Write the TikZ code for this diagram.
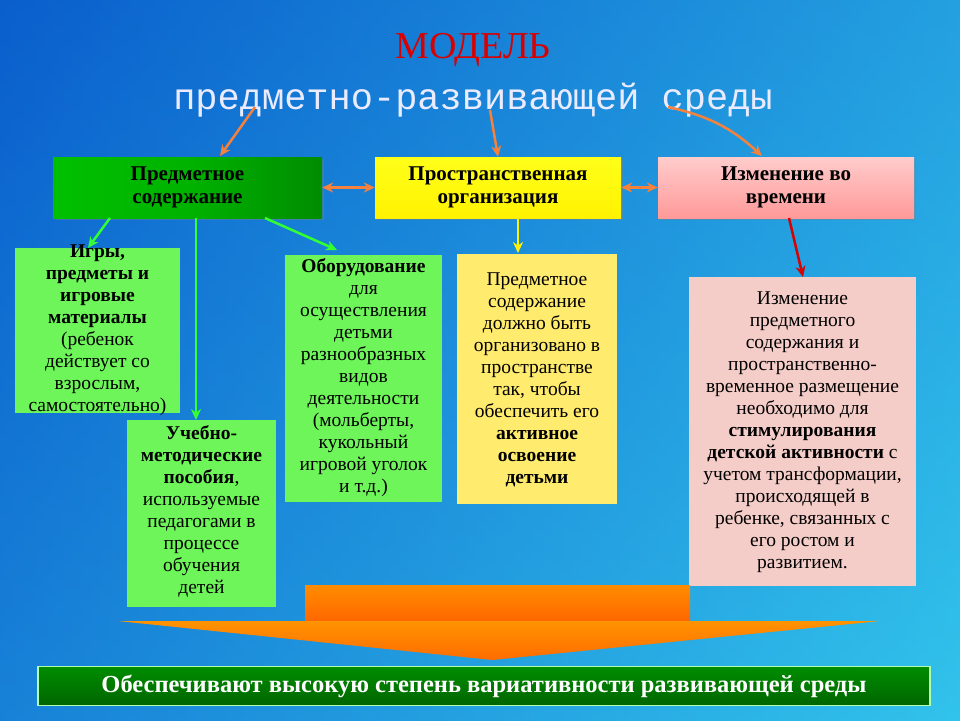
\documentclass[tikz,border=0pt]{standalone}
\usepackage{fontspec}
\setmainfont{Liberation Serif}
\newfontfamily\monof{Liberation Mono}
\usetikzlibrary{arrows.meta,shadows}
\definecolor{bgL}{RGB}{10,95,205}
\definecolor{bgR}{RGB}{50,195,235}
\definecolor{gbox}{RGB}{110,245,90}
\definecolor{ybox}{RGB}{255,235,110}
\definecolor{pbox}{RGB}{245,205,200}
\definecolor{arr}{RGB}{245,130,60}
\tikzset{
 head/.style={draw=none,minimum height=61pt,font=\bfseries\fontsize{21}{23}\selectfont,align=center,drop shadow={shadow xshift=2pt,shadow yshift=-2pt,opacity=.4}},
 body/.style={draw=none,inner sep=0pt,font=\fontsize{19.5}{22}\selectfont,align=center},
 oa/.style={arr,line width=2.5pt,-{Stealth[length=11pt,width=10pt]}},
 ob/.style={arr,line width=2.5pt,{Stealth[length=11pt,width=10pt]}-{Stealth[length=11pt,width=10pt]}},
 ga/.style={line width=2.5pt,-{Stealth[length=11pt,width=10pt]}},
}
\begin{document}
\begin{tikzpicture}[x=1pt,y=-1pt]
\shade[left color=bgL,right color=bgR] (0,0) rectangle (960,720);
\shade[top color=bgL,bottom color=bgR,opacity=.35] (0,0) rectangle (960,720);
\node (t1) at (473,50) {\color{red!85!black}\fontsize{38}{40}\selectfont МОДЕЛЬ};
\node (t2) at (473,100) {\color{white!92!blue}\monof\fontsize{37}{39}\selectfont предметно-развивающей среды};
\node[head,left color=green!75!black,right color=green!55!black,middle color=green!70!black,minimum width=269pt] (h1) at (187.5,187.5) {Предметное\\содержание};
\node[head,top color=yellow!90!white,bottom color=yellow!90!orange,minimum width=246pt] (h2) at (498,187.5) {Пространственная\\организация};
\node[head,top color=red!20!white,bottom color=red!40!white,minimum width=256pt] (h3) at (786,187.5) {Изменение во\\времени};
\path[fill=gbox] (15,248) rectangle (180,413);
\node[body] (g1) at (97.5,330) {\textbf{Игры,}\\\textbf{предметы и}\\\textbf{игровые}\\\textbf{материалы}\\(ребенок\\действует со\\взрослым,\\самостоятельно)};
\path[fill=gbox] (127,420) rectangle (276,607);
\node[body] (g2) at (201.5,511) {\textbf{Учебно-}\\\textbf{методические}\\\textbf{пособия},\\используемые\\педагогами в\\процессе\\обучения\\детей};
\path[fill=gbox] (285,255) rectangle (442,502);
\node[body] (g3) at (363.5,378) {\textbf{Оборудование}\\для\\осуществления\\детьми\\разнообразных\\видов\\деятельности\\(мольберты,\\кукольный\\игровой уголок\\и т.д.)};
\path[fill=ybox] (457,254) rectangle (617,504);
\node[body] (y1) at (537,380) {Предметное\\содержание\\должно быть\\организовано в\\пространстве\\так, чтобы\\обеспечить его\\\textbf{активное}\\\textbf{освоение}\\\textbf{детьми}};
\path[fill=pbox] (689,277) rectangle (916,586);
\node[body] (p1) at (802.5,432) {Изменение\\предметного\\содержания и\\пространственно-\\временное размещение\\необходимо для\\\textbf{стимулирования}\\\textbf{детской активности} с\\учетом трансформации,\\происходящей в\\ребенке, связанных с\\его ростом и\\развитием.};
% big arrow
\path[top color=orange!90!yellow,bottom color=orange!80!red] (305,585) rectangle (690,622);
\path[top color=orange!85!yellow,bottom color=orange!85!red] (118,621) -- (880,621) -- (492,660) -- cycle;
\node[draw=green!30!white,line width=1.5pt,top color=green!55!black,bottom color=green!40!black,minimum width=892pt,minimum height=39pt,font=\bfseries\fontsize{24.5}{26}\selectfont,text=white] (bar) at (484,686) {Обеспечивают высокую степень вариативности развивающей среды};
% connectors
\coordinate (s1) at (255,107); \coordinate (s2) at (490,110); \coordinate (s3) at (668,107);
\draw[oa] (s1) -- (220,156);
\draw[oa] (s2) -- (h2.north);
\draw[oa] (s3) to[bend left=15] (762,156);
\draw[ob] (h1.east) -- (h2.west);
\draw[ob] (h2.east) -- (h3.west);
\draw[ga,green!80!white] (110,218) -- (88,248);
\draw[ga,green!80!white] (196,218) -- (196,420);
\draw[ga,green!80!white] (265,218) -- (337,250);
\draw[ga,yellow] (518,218) -- (518,253);
\draw[ga,red!85!black] (789,218) -- (803,277);
\end{tikzpicture}
\end{document}
